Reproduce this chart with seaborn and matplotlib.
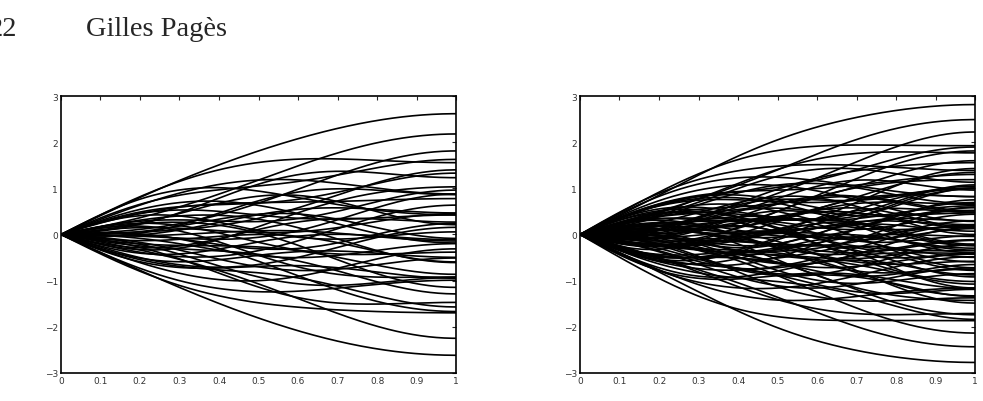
import numpy as np
import pandas as pd
import matplotlib
matplotlib.use("Agg")
import matplotlib.pyplot as plt
import seaborn as sns

# Quantifieurs fonctionnels du mouvement brownien, coordonnées dans la base
# de Karhunen-Loève (en centièmes) : W(t) = sum_k c_k sqrt(2) sin((k-1/2) pi t)

# N = 48 (gauche)
c1_48 = [183, 136, 133, 110, 98, 98, 90, 81, 67, 67, 62, 62, 49, 48, 45, 38, 36, 28, 25, 19,
         18, 15, 6, 5, -1, -5, -7, -12, -21, -22, -27, -30, -39, -40, -44, -53, -55, -61, -67, -68,
         -79, -88, -97, -97, -109, -133, -134, -183]
c2_48 = [-1, -19, 22, 4, -29, -2, 25, -2, -7, -27, 11, 37, 20, -8, -36, -4, 15, -25, 38, 13,
         -5, -16, 16, -38, 4, 34, -12, -16, 10, 16, -36, -7, 39, -16, 9, -7, 22, -35, 15, -12,
         -2, 32, 3, -27, 5, 24, -16, 2]
c3_48 = [1, -1, -1, 9, 1, -13, -3, 11, -13, 5, 4, 5, -14, 12, -8, -9, 9, 9, 0, -12,
         9, -12, 14, 2, -5, -4, 12, -12, -11, 11, 2, 9, -3, -11, -8, 10, 12, 4, -9, -11,
         11, 2, -11, 0, 10, -2, -2, 0]

# N = 96 (droite)
c1_96 = [201, 159, 158, 133, 124, 122, 119, 104, 102, 94, 91, 90, 90, 78, 76, 71, 68, 66, 66, 64,
         57, 55, 53, 52, 51, 50, 42, 41, 41, 39, 38, 34, 31, 31, 28, 27, 24, 23, 21, 21,
         18, 14, 13, 12, 11, 9, 3, 1, 1, 1, -1, -1, -4, -5, -7, -8, -13, -17, -20, -21,
         -22, -24, -25, -28, -29, -30, -33, -38, -38, -40, -44, -45, -45, -51, -52, -56, -59, -60, -63, -70,
         -71, -76, -78, -80, -82, -85, -93, -94, -104, -111, -115, -120, -131, -154, -155, -198]
c2_96 = [1, -18, 22, 0, 27, -32, -4, 11, -15, 11, 35, -11, -37, -6, 19, 12, -18, -2, -30, 41,
         11, -38, -3, -12, 29, -3, -16, 12, 26, 6, -22, 11, -45, -10, -32, 27, -9, -4, 2, 47,
         -19, 22, 16, 2, 14, -18, -29, 12, -5, -48, -7, -29, -9, 32, 33, 8, -16, 9, 6, 18,
         -3, -22, -20, -41, 18, 46, -8, 28, -17, 6, 0, 24, -1, -24, -34, 14, -10, 39, -8, 6,
         12, -40, 33, -18, 4, -18, -4, 24, 5, -28, 2, 32, -3, -24, 17, 0]
c3_96 = [-2, 0, -1, -8, 2, 2, 12, -12, -9, 9, 2, 12, 2, -11, -11, 12, 10, -3, -13, -2,
         -4, 8, 17, 1, 8, -19, 4, 16, -15, -4, -13, -3, -6, 1, 13, 8, 19, -17, 4, -1,
         -3, -3, -18, 2, 18, 3, -16, 0, -16, 1, 14, 10, -6, 12, -11, -1, -1, 19, -16, 0,
         4, -17, 17, 1, 1, 4, 0, -16, -3, -2, 15, 13, -19, 13, -9, -1, -5, -6, 0, 15,
         -15, 1, 10, 12, -1, -15, -2, -7, 13, 2, -12, 1, 7, -1, -1, 3]
c4_96 = [-1, 1, -1, 0, 1, -1, 1, 1, -2, 0, 0, 0, 1, 5, -1, 0, 1, -9, -1, 1,
         6, 0, -3, 7, -3, 0, -9, 1, 0, -8, 1, 10, -1, 8, 3, -4, -1, 0, -8, 1,
         -7, 6, -4, 7, 1, 9, 1, -9, 5, 1, -1, -4, -10, 0, 0, 7, 5, 1, 0, -9,
         -6, 2, 1, -1, 9, 0, 10, 0, -8, -7, 1, -3, 2, 1, 2, 5, 8, 0, -9, -1,
         -4, -1, 0, 1, 8, 1, -7, -2, 1, 1, 1, 0, 0, 1, -1, 1]

x_ticks = [0, 0.1, 0.2, 0.3, 0.4, 0.5, 0.6, 0.7, 0.8, 0.9, 1]
x_tick_labels = ["0", "0.1", "0.2", "0.3", "0.4", "0.5", "0.6", "0.7", "0.8", "0.9", "1"]
y_ticks = [-3, -2, -1, 0, 1, 2, 3]

t = np.linspace(0, 1, 201)


def paths_frame(*coords):
    C = np.array(coords, dtype=float).T / 100.0
    f = np.pi * (np.arange(1, C.shape[1] + 1) - 0.5)
    W = C @ (np.sqrt(2) * np.sin(np.outer(f, t)))
    parts = [pd.DataFrame({"t": t, "w": w, "path": i}) for i, w in enumerate(W)]
    return pd.concat(parts, ignore_index=True)


df_48 = paths_frame(c1_48, c2_48, c3_48)
df_96 = paths_frame(c1_96, c2_96, c3_96, c4_96)

sns.set_style("white")
fig = plt.figure(figsize=(9.83, 4.02), dpi=100)
ax1 = fig.add_axes([0.062, 0.0697, 0.402, 0.689])
ax2 = fig.add_axes([0.590, 0.0697, 0.402, 0.689])

for ax, df in [(ax1, df_48), (ax2, df_96)]:
    sns.lineplot(data=df, x="t", y="w", units="path", estimator=None,
                 color="black", lw=1.2, ax=ax, legend=False)
    ax.set_xlim(0, 1)
    ax.set_ylim(-3, 3)
    ax.set_xticks(x_ticks)
    ax.set_xticklabels(x_tick_labels)
    ax.set_yticks(y_ticks)
    ax.set_xlabel("")
    ax.set_ylabel("")
    ax.tick_params(direction="in", length=3, width=0.8, top=True, right=True,
                   labelsize=6.5, labelcolor="#333333", pad=2)
    for s in ax.spines.values():
        s.set_color("black")
        s.set_linewidth(1.2)

# en-tête de page
fig.text(17 / 983, 1 - 36 / 402, "22", ha="right", va="baseline",
         fontsize=20.5, family="Liberation Serif")
fig.text(86 / 983, 1 - 36 / 402, "Gilles Pagès", ha="left", va="baseline",
         fontsize=20.5, family="Liberation Serif")

fig.savefig("out.png", dpi=100)
